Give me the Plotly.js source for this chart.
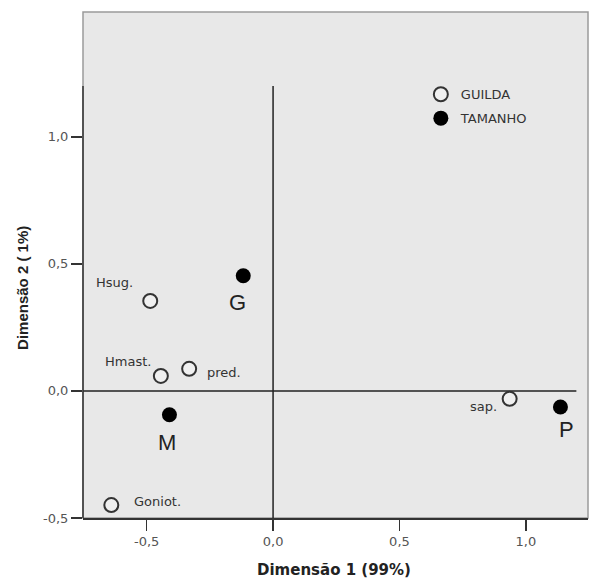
<!DOCTYPE html>
<html>
<head>
<meta charset="utf-8">
<script src="https://cdn.plot.ly/plotly-3.0.1.min.js"></script>
<style>html,body{margin:0;padding:0;background:#fff;}#chart{width:589px;height:581px;}</style>
</head>
<body>
<div id="chart"></div>
<script>
// ---- data ----
const guildaLabels = ['Hsug.', 'Hmast.', 'pred.', 'Goniot.', 'sap.'];
const guildaX = [-0.486, -0.444, -0.332, -0.640, 0.936];
const guildaY = [0.354, 0.059, 0.087, -0.449, -0.031];

const tamanhoLabels = ['G', 'M', 'P'];
const tamanhoX = [-0.118, -0.410, 1.137];
const tamanhoY = [0.453, -0.094, -0.063];

const xTicks = [-0.5, 0.0, 0.5, 1.0];
const xTickText = ['-0,5', '0,0', '0,5', '1,0'];
const yTicks = [-0.5, 0.0, 0.5, 1.0];
const yTickText = ['-0,5', '0,0', '0,5', '1,0'];
const xTitle = 'Dimensão 1 (99%)';
const yTitle = 'Dimensão 2 ( 1%)';

// ---- label styles (anchor + pixel offsets from the point) ----
const guildaLabelStyle = [
  {xanchor: 'right', dx: -15, dy: 18},
  {xanchor: 'right', dx: -8, dy: 14},
  {xanchor: 'left', dx: 16, dy: -4},
  {xanchor: 'left', dx: 21, dy: 4},
  {xanchor: 'right', dx: -11, dy: -8}
];
const tamanhoLabelStyle = [
  {xanchor: 'center', dx: -6, dy: -27},
  {xanchor: 'center', dx: -2, dy: -28},
  {xanchor: 'center', dx: 6, dy: -23}
];
const smallFont = {family: 'DejaVu Sans, sans-serif', size: 13, color: '#333'};
const bigFont = {family: 'Liberation Sans, Arial, sans-serif', size: 22, color: '#222'};

const traces = [
  {
    name: 'GUILDA', legendgroup: 'g1', type: 'scatter', mode: 'markers',
    x: guildaX, y: guildaY,
    marker: {symbol: 'circle', size: 14, color: 'rgba(255,255,255,0.35)', line: {color: '#333', width: 2}},
    cliponaxis: false, hoverinfo: 'none'
  },
  {
    name: 'TAMANHO', legendgroup: 'g2', type: 'scatter', mode: 'markers',
    x: tamanhoX, y: tamanhoY,
    marker: {symbol: 'circle', size: 15, color: '#000', line: {color: '#000', width: 0}},
    cliponaxis: false, hoverinfo: 'none'
  }
];

const annotations = [];
guildaLabels.forEach((t, i) => {
  const s = guildaLabelStyle[i];
  annotations.push({text: t, x: guildaX[i], y: guildaY[i], xref: 'x', yref: 'y',
    xanchor: s.xanchor, yanchor: 'middle', xshift: s.dx, yshift: s.dy,
    showarrow: false, font: smallFont});
});
tamanhoLabels.forEach((t, i) => {
  const s = tamanhoLabelStyle[i];
  annotations.push({text: t, x: tamanhoX[i], y: tamanhoY[i], xref: 'x', yref: 'y',
    xanchor: s.xanchor, yanchor: 'middle', xshift: s.dx, yshift: s.dy,
    showarrow: false, font: bigFont});
});
annotations.push(
  {text: '<b>' + xTitle + '</b>', xref: 'paper', yref: 'paper', x: 0.497, y: -0.103,
   xanchor: 'center', yanchor: 'middle', showarrow: false,
   font: {family: 'DejaVu Sans, sans-serif', size: 15, color: '#222'}},
  {text: '<b>' + yTitle + '</b>', xref: 'paper', yref: 'paper', x: -0.121, y: 0.4545,
   xanchor: 'center', yanchor: 'middle', showarrow: false, textangle: -90,
   font: {family: 'Liberation Sans, Arial, sans-serif', size: 15, color: '#222'}}
);

const layout = {
  width: 589, height: 581,
  margin: {l: 83, r: 1, t: 12, b: 63},
  paper_bgcolor: '#ffffff',
  plot_bgcolor: '#e8e8e8',
  font: {family: 'DejaVu Sans, sans-serif', size: 13, color: '#444'},
  showlegend: true,
  legend: {
    x: 0.669, y: 0.867, xanchor: 'left', yanchor: 'top',
    traceorder: 'grouped', tracegroupgap: 4,
    bgcolor: 'rgba(0,0,0,0)', borderwidth: 0,
    font: {family: 'DejaVu Sans, sans-serif', size: 13, color: '#333'}
  },
  xaxis: {
    range: [-0.752, 1.246], tickvals: xTicks, ticktext: xTickText,
    ticks: 'outside', ticklen: 11, tickwidth: 1.5, tickcolor: '#333',
    showline: true, linecolor: '#333', linewidth: 1.5, mirror: false,
    showgrid: false, zeroline: false, fixedrange: true,
    tickfont: {family: 'DejaVu Sans, sans-serif', size: 13, color: '#555'}
  },
  yaxis: {
    range: [-0.5, 1.491], tickvals: yTicks, ticktext: yTickText,
    ticks: 'outside', ticklen: 11, tickwidth: 1.5, tickcolor: '#333',
    showline: false, showgrid: false, zeroline: false, fixedrange: true,
    tickfont: {family: 'DejaVu Sans, sans-serif', size: 13, color: '#555'}
  },
  shapes: [
    {type: 'rect', xref: 'paper', yref: 'paper', x0: 0, x1: 1, y0: 0, y1: 1,
     line: {color: '#9a9a9a', width: 1.5}, layer: 'below'},
    {type: 'line', xref: 'paper', yref: 'y', x0: 0, x1: 0, y0: -0.5, y1: 1.2,
     line: {color: '#333', width: 1.5}},
    {type: 'line', xref: 'x', yref: 'y', x0: 0, x1: 0, y0: -0.5, y1: 1.2,
     line: {color: '#222', width: 1.5}, layer: 'below'},
    {type: 'line', xref: 'x', yref: 'y', x0: -0.752, x1: 1.2, y0: 0, y1: 0,
     line: {color: '#222', width: 1.5}, layer: 'below'}
  ],
  annotations: annotations
};

Plotly.newPlot('chart', traces, layout, {displayModeBar: false, staticPlot: true});
</script>
</body>
</html>
